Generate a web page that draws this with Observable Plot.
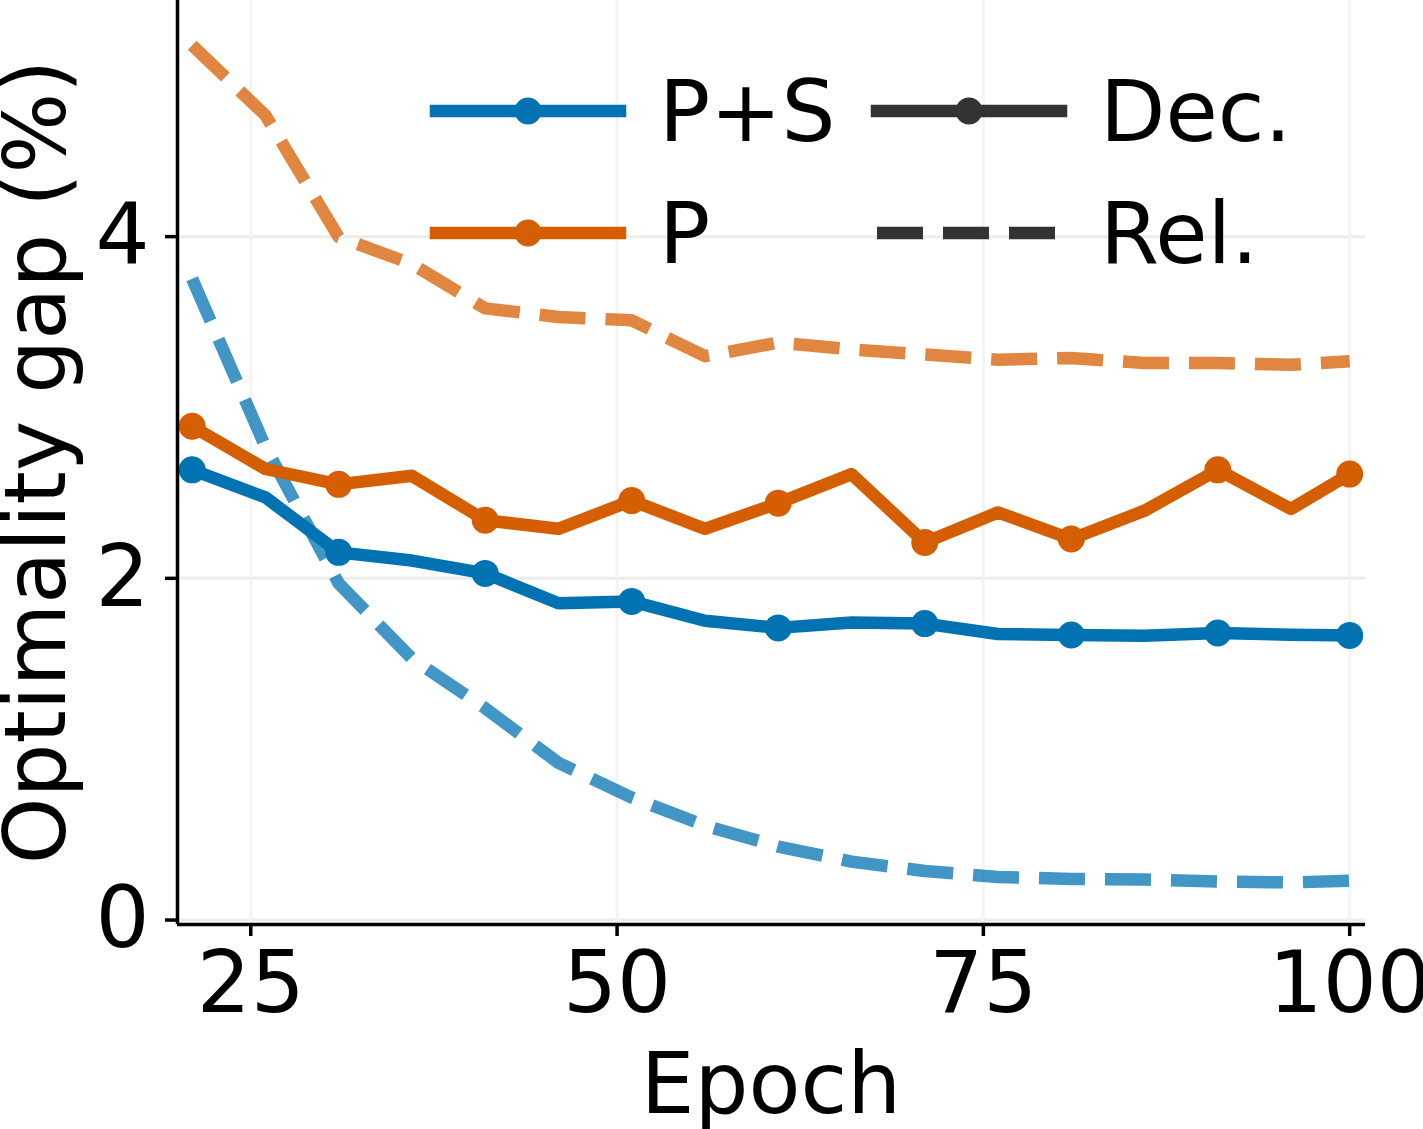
<!DOCTYPE html>
<html><head><meta charset="utf-8">
<script src="https://cdn.jsdelivr.net/npm/d3@7"></script>
<script src="https://cdn.jsdelivr.net/npm/@observablehq/plot@0.6"></script>
<style>body{margin:0;background:#fff} svg{display:block}</style>
</head><body><div id="chart"></div>
<script>
// ---- data ----
const epochs = [21, 26, 31, 36, 41, 46, 51, 56, 61, 66, 71, 76, 81, 86, 91, 96, 100];
const markerEpochs = [21, 31, 41, 51, 61, 71, 81, 91, 100];
const psDec = [2.635, 2.474, 2.152, 2.104, 2.029, 1.854, 1.865, 1.752, 1.710, 1.742, 1.735, 1.674, 1.668, 1.664, 1.680, 1.670, 1.666];
const pDec  = [2.890, 2.640, 2.550, 2.600, 2.340, 2.290, 2.455, 2.290, 2.440, 2.610, 2.210, 2.386, 2.230, 2.396, 2.635, 2.406, 2.610];
const psRel = [3.753, 2.770, 1.970, 1.530, 1.240, 0.920, 0.717, 0.553, 0.430, 0.342, 0.287, 0.252, 0.241, 0.237, 0.226, 0.220, 0.230];
const pRel  = [5.120, 4.710, 3.997, 3.840, 3.580, 3.530, 3.510, 3.300, 3.380, 3.340, 3.310, 3.280, 3.290, 3.260, 3.260, 3.250, 3.270];
const methods = ["P+S", "P"];
const methodColors = ["#0173B2", "#D55E00"];
const kinds = ["Dec.", "Rel."];
const xTicks = [25, 50, 75, 100];
const yTicks = [0, 2, 4];
const xDomain = [20, 101.08];
const yDomain = [-0.026, 5.382];
const xLabel = "Epoch";
const yLabel = "Optimality gap (%)";

// ---- table ----
const rows = [];
function addSeries(vals, method, kind) {
  epochs.forEach((e, i) => rows.push({epoch: e, gap: vals[i], method, kind}));
}
addSeries(psDec, "P+S", "Dec.");
addSeries(pDec, "P", "Dec.");
addSeries(psRel, "P+S", "Rel.");
addSeries(pRel, "P", "Rel.");
const dec = rows.filter(d => d.kind === "Dec.");
const rel = rows.filter(d => d.kind === "Rel.");
const dots = dec.filter(d => markerEpochs.includes(d.epoch));

const FONT = "DejaVu Sans";
const FS = 85;
const LW = 12.5;
const DASH = "46,20";

const chart = Plot.plot({
  width: 1423, height: 1129,
  marginLeft: 177, marginRight: 58, marginTop: 0, marginBottom: 205,
  style: {fontFamily: FONT, background: "#fff", color: "#000"},
  x: {domain: xDomain},
  y: {domain: yDomain},
  color: {domain: methods, range: methodColors},
  marks: [
    Plot.gridY(yTicks, {stroke: "#ececec", strokeOpacity: 1, strokeWidth: 3}),
    Plot.gridX(xTicks, {stroke: "#f4f4f4", strokeOpacity: 1, strokeWidth: 3}),
    Plot.line(rel, {x: "epoch", y: "gap", z: "method", stroke: "method", strokeWidth: LW,
      strokeDasharray: DASH, strokeOpacity: 0.75, strokeLinejoin: "round", strokeLinecap: "butt"}),
    Plot.line(dec, {x: "epoch", y: "gap", z: "method", stroke: "method", strokeWidth: LW,
      strokeLinejoin: "round", strokeLinecap: "square"}),
    Plot.dot(dots, {x: "epoch", y: "gap", fill: "method", r: 13.5}),
    Plot.axisX(xTicks, {tickSize: 12, tickPadding: 15, fontSize: FS, strokeWidth: 3.5, label: null, tickFormat: d3.format("d")}),
    Plot.axisY(yTicks, {tickSize: 12, tickPadding: 16, fontSize: FS, strokeWidth: 3.5, label: null, tickFormat: d3.format("d")}),
    Plot.ruleX([xDomain[0]], {stroke: "#000", strokeWidth: 3.5}),
    Plot.ruleY([yDomain[0]], {stroke: "#000", strokeWidth: 3.5})
  ]
});
document.getElementById("chart").appendChild(chart);

// ---- axis titles & legend (layout) ----
const svg = d3.select(chart);
svg.append("text").attr("x", 771).attr("y", 1113).attr("text-anchor", "middle")
  .attr("font-family", FONT).attr("font-size", FS).attr("fill", "#000").text(xLabel);
svg.append("text").attr("transform", "translate(65,462) rotate(-90)").attr("text-anchor", "middle")
  .attr("font-family", FONT).attr("font-size", FS).attr("fill", "#000").text(yLabel);

const lg = svg.append("g").attr("text-anchor", "start");
const rowY = [111, 233];
const colX = [436, 877]; // handle start
const handleLen = 184;
const textOff = 223;
// column 1: methods (solid line with marker)
methods.forEach((m, i) => {
  const y = rowY[i], x0 = colX[0];
  lg.append("line").attr("x1", x0).attr("x2", x0 + handleLen).attr("y1", y).attr("y2", y)
    .attr("stroke", methodColors[i]).attr("stroke-width", LW).attr("stroke-linecap", "square");
  lg.append("circle").attr("cx", x0 + handleLen / 2).attr("cy", y).attr("r", 13.5).attr("fill", methodColors[i]);
  lg.append("text").attr("x", x0 + textOff).attr("y", y + 30).attr("text-anchor", "start").attr("font-family", FONT)
    .attr("font-size", FS).attr("fill", "#000").text(m);
});
// column 2: kinds
kinds.forEach((k, i) => {
  const y = rowY[i], x0 = colX[1];
  const ln = lg.append("line").attr("x1", x0).attr("x2", x0 + handleLen).attr("y1", y).attr("y2", y)
    .attr("stroke", "#333333").attr("stroke-width", LW);
  if (k === "Dec.") {
    ln.attr("stroke-linecap", "square");
    lg.append("circle").attr("cx", x0 + handleLen / 2).attr("cy", y).attr("r", 13.5).attr("fill", "#333333");
  } else {
    ln.attr("stroke-dasharray", DASH).attr("stroke-linecap", "butt");
  }
  lg.append("text").attr("x", x0 + textOff).attr("y", y + 30).attr("text-anchor", "start").attr("font-family", FONT)
    .attr("font-size", FS).attr("fill", "#000").text(k);
});
</script>
</body></html>
